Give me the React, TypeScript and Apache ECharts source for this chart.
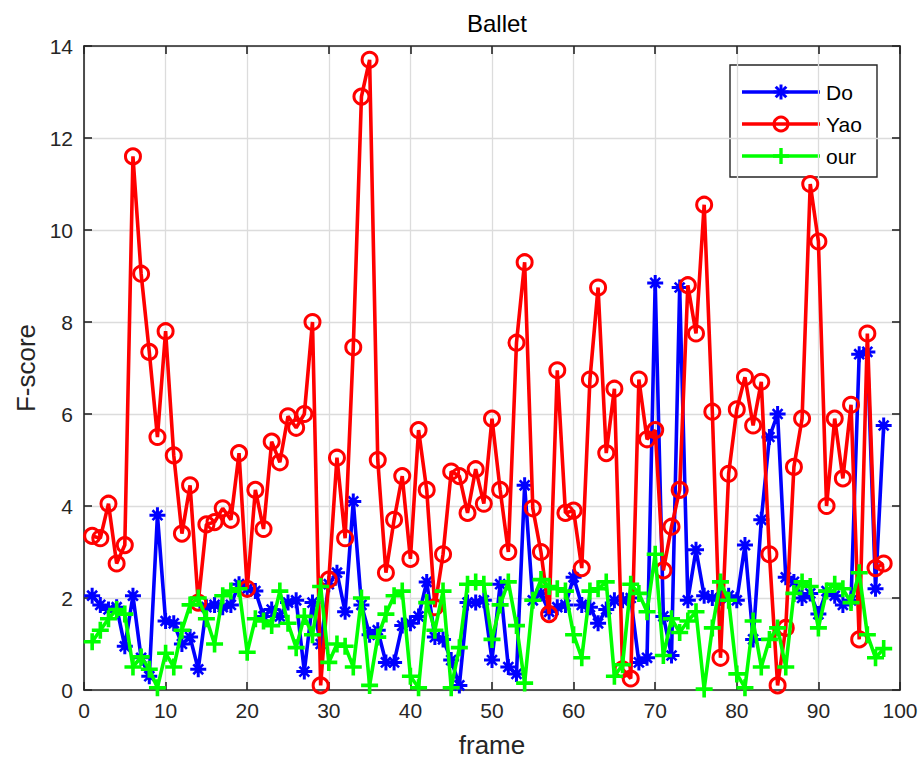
import React, { useEffect, useRef } from "react";
import * as echarts from "echarts";

const frames = [
  1, 2, 3, 4, 5, 6, 7, 8, 9, 10, 11, 12, 13, 14, 15, 16, 17, 18, 19, 20,
  21, 22, 23, 24, 25, 26, 27, 28, 29, 30, 31, 32, 33, 34, 35, 36, 37, 38, 39, 40,
  41, 42, 43, 44, 45, 46, 47, 48, 49, 50, 51, 52, 53, 54, 55, 56, 57, 58, 59, 60,
  61, 62, 63, 64, 65, 66, 67, 68, 69, 70, 71, 72, 73, 74, 75, 76, 77, 78, 79, 80,
  81, 82, 83, 84, 85, 86, 87, 88, 89, 90, 91, 92, 93, 94, 95, 96, 97, 98,
];

const doScores = [
  2.05, 1.85, 1.75, 1.8, 0.95, 2.05, 0.7, 0.3, 3.8, 1.5,
  1.45, 1.0, 1.15, 0.45, 1.8, 1.85, 1.8, 1.85, 2.3, 2.2,
  2.15, 1.6, 1.75, 1.6, 1.9, 1.95, 0.4, 1.9, 1.0, 2.3,
  2.55, 1.7, 4.1, 1.85, 1.2, 1.3, 0.6, 0.6, 1.4, 1.45,
  1.6, 2.35, 1.15, 1.1, 0.65, 0.1, 1.9, 1.9, 1.95, 0.65,
  2.3, 0.5, 0.35, 4.45, 1.95, 2.1, 1.7, 1.8, 1.85, 2.45,
  1.85, 1.8, 1.45, 1.75, 1.95, 1.95, 2.0, 0.6, 0.7, 8.85,
  1.6, 0.75, 8.75, 1.95, 3.05, 2.05, 2.0, 2.0, 2.05, 1.95,
  3.15, 1.1, 3.7, 5.5, 6.0, 2.45, 2.35, 2.0, 2.1, 1.65,
  2.15, 2.05, 1.85, 1.95, 7.3, 7.35, 2.2, 5.75,
];

const yaoScores = [
  3.35, 3.3, 4.05, 2.75, 3.15, 11.6, 9.05, 7.35, 5.5, 7.8,
  5.1, 3.4, 4.45, 1.9, 3.6, 3.65, 3.95, 3.7, 5.15, 2.2,
  4.35, 3.5, 5.4, 4.95, 5.95, 5.7, 6.0, 8.0, 0.1, 2.4,
  5.05, 3.3, 7.45, 12.9, 13.7, 5.0, 2.55, 3.7, 4.65, 2.85,
  5.65, 4.35, 1.8, 2.95, 4.75, 4.65, 3.85, 4.8, 4.05, 5.9,
  4.35, 3.0, 7.55, 9.3, 3.95, 3.0, 1.65, 6.95, 3.85, 3.9,
  2.65, 6.75, 8.75, 5.15, 6.55, 0.45, 0.25, 6.75, 5.45, 5.65,
  2.6, 3.55, 4.35, 8.8, 7.75, 10.55, 6.05, 0.7, 4.7, 6.1,
  6.8, 5.75, 6.7, 2.95, 0.1, 1.35, 4.85, 5.9, 11.0, 9.75,
  4.0, 5.9, 4.6, 6.2, 1.1, 7.75, 2.65, 2.75,
];

const ourScores = [
  1.05, 1.3, 1.55, 1.75, 1.65, 0.5, 0.72, 0.45, 0.05, 0.8,
  0.5, 1.3, 1.85, 2.0, 1.55, 1.0, 2.05, 2.15, 2.2, 0.82,
  1.55, 1.5, 1.4, 2.15, 1.45, 0.92, 1.6, 1.2, 2.25, 0.6,
  1.0, 0.95, 0.5, 2.0, 0.1, 1.15, 1.65, 2.05, 2.15, 0.3,
  0.05, 1.9, 1.3, 2.15, 0.05, 0.92, 2.3, 2.35, 2.3, 1.1,
  1.85, 2.35, 1.4, 0.15, 1.95, 2.4, 2.25, 2.2, 2.15, 1.2,
  0.7, 2.15, 2.2, 2.35, 0.3, 0.55, 2.3, 2.1, 1.7, 2.95,
  0.75, 1.55, 1.25, 1.5, 1.7, 0.02, 1.35, 2.35, 1.95, 0.35,
  0.05, 1.5, 0.5, 1.1, 1.35, 0.5, 2.1, 2.35, 2.25, 1.35,
  2.15, 2.3, 2.2, 1.9, 2.55, 1.2, 0.7, 0.9,
];

const seriesNames = ["Do", "Yao", "our"];
const seriesColors = ["#0000ff", "#ff0000", "#00ff00"];

const PLUS =
  "path://M-1.7,-8H1.7V-1.7H8V1.7H1.7V8H-1.7V1.7H-8V-1.7H-1.7Z";
const STAR =
  "path://M-1.5,-8H1.5V-1.5H8V1.5H1.5V8H-1.5V1.5H-8V-1.5H-1.5Z" +
  "M4.03,5.87L-5.87,-4.03L-4.03,-5.87L5.87,4.03Z" +
  "M-4.03,5.87L-5.87,4.03L4.03,-5.87L5.87,-4.03Z";

export default function App() {
  const ref = useRef<HTMLDivElement>(null);

  useEffect(() => {
    if (!ref.current) return;
    const chart = echarts.init(ref.current, null, { renderer: "svg" });
    const font = "'Liberation Sans', Arial, Helvetica, sans-serif";
    const axisColor = "#262626";
    const L = 84;
    const T = 46;
    const W = 816;
    const H = 644;

    const pair = (vals: number[]) => frames.map((f, i) => [f, vals[i]]);

    const axisLine = { show: true, onZero: false, lineStyle: { color: axisColor, width: 1.6 } };
    const axisTick = { show: true, inside: true, length: 8, lineStyle: { color: axisColor, width: 1.6 } };
    const splitLine = { show: true, lineStyle: { color: "#dcdcdc", width: 1.3 } };
    const tickLabel = { color: axisColor, fontFamily: font, fontSize: 21 };

    const lgX = 730;
    const lgY = 65;
    const lgW = 147;
    const lgH = 112;
    const rowY = [92, 124, 156];
    const mx = 781;
    const legendChildren: any[] = [
      {
        type: "rect",
        shape: { x: lgX, y: lgY, width: lgW, height: lgH },
        style: { fill: "#ffffff", stroke: axisColor, lineWidth: 1.4 },
      },
    ];
    seriesNames.forEach((name, i) => {
      const y = rowY[i];
      const c = seriesColors[i];
      legendChildren.push({
        type: "line",
        shape: { x1: 742, y1: y, x2: 820, y2: y },
        style: { stroke: c, lineWidth: 3.6 },
      });
      if (i === 0) {
        [
          [-7.5, 0, 7.5, 0],
          [0, -7.5, 0, 7.5],
          [-5.3, -5.3, 5.3, 5.3],
          [-5.3, 5.3, 5.3, -5.3],
        ].forEach((s) =>
          legendChildren.push({
            type: "line",
            shape: { x1: mx + s[0], y1: y + s[1], x2: mx + s[2], y2: y + s[3] },
            style: { stroke: c, lineWidth: 3 },
          })
        );
      } else if (i === 1) {
        legendChildren.push({
          type: "circle",
          shape: { cx: mx, cy: y, r: 7 },
          style: { fill: "none", stroke: c, lineWidth: 3 },
        });
      } else {
        [
          [-8, 0, 8, 0],
          [0, -8, 0, 8],
        ].forEach((s) =>
          legendChildren.push({
            type: "line",
            shape: { x1: mx + s[0], y1: y + s[1], x2: mx + s[2], y2: y + s[3] },
            style: { stroke: c, lineWidth: 3.4 },
          })
        );
      }
      legendChildren.push({
        type: "text",
        style: {
          text: name,
          x: 826,
          y,
          fill: "#000000",
          font: `21px ${font}`,
          verticalAlign: "middle",
          align: "left",
        },
      });
    });

    chart.setOption({
      animation: false,
      backgroundColor: "#ffffff",
      title: {
        text: "Ballet",
        left: L + W / 2,
        top: 6,
        textAlign: "center",
        textStyle: { color: "#000000", fontFamily: font, fontSize: 24, fontWeight: "normal" },
      },
      grid: { left: L, top: T, width: W, height: H, containLabel: false },
      xAxis: [
        {
          type: "value",
          min: 0,
          max: 100,
          interval: 10,
          position: "bottom",
          name: "frame",
          nameLocation: "middle",
          nameGap: 42,
          nameTextStyle: { color: axisColor, fontFamily: font, fontSize: 26 },
          axisLine,
          axisTick,
          axisLabel: { ...tickLabel, margin: 10 },
          splitLine,
        },
        {
          type: "value",
          min: 0,
          max: 100,
          interval: 10,
          position: "top",
          axisLine,
          axisTick,
          axisLabel: { show: false },
          splitLine: { show: false },
        },
      ],
      yAxis: [
        {
          type: "value",
          min: 0,
          max: 14,
          interval: 2,
          position: "left",
          name: "F-score",
          nameLocation: "middle",
          nameGap: 40,
          nameRotate: 90,
          nameTextStyle: { color: axisColor, fontFamily: font, fontSize: 26 },
          axisLine,
          axisTick,
          axisLabel: { ...tickLabel, margin: 11 },
          splitLine,
        },
        {
          type: "value",
          min: 0,
          max: 14,
          interval: 2,
          position: "right",
          axisLine,
          axisTick,
          axisLabel: { show: false },
          splitLine: { show: false },
        },
      ],
      series: [
        {
          name: seriesNames[0],
          type: "line",
          xAxisIndex: 0,
          yAxisIndex: 0,
          data: pair(doScores),
          symbol: STAR,
          symbolSize: 16,
          showAllSymbol: true,
          clip: false,
          lineStyle: { color: seriesColors[0], width: 3.6 },
          itemStyle: { color: seriesColors[0] },
          z: 2,
        },
        {
          name: seriesNames[1],
          type: "line",
          xAxisIndex: 0,
          yAxisIndex: 0,
          data: pair(yaoScores),
          symbol: "circle",
          symbolSize: 15,
          showAllSymbol: true,
          clip: false,
          lineStyle: { color: seriesColors[1], width: 3.6 },
          itemStyle: { color: "rgba(255,255,255,0)", borderColor: seriesColors[1], borderWidth: 3 },
          z: 3,
        },
        {
          name: seriesNames[2],
          type: "line",
          xAxisIndex: 0,
          yAxisIndex: 0,
          data: pair(ourScores),
          symbol: PLUS,
          symbolSize: 17,
          showAllSymbol: true,
          clip: false,
          lineStyle: { color: seriesColors[2], width: 3.6 },
          itemStyle: { color: seriesColors[2] },
          z: 4,
        },
      ],
      graphic: [{ type: "group", z: 100, children: legendChildren }],
    });

    return () => chart.dispose();
  }, []);

  return (
    <div
      ref={ref}
      style={{ position: "fixed", left: 0, top: 0, width: 922, height: 768, background: "#fff" }}
    />
  );
}
